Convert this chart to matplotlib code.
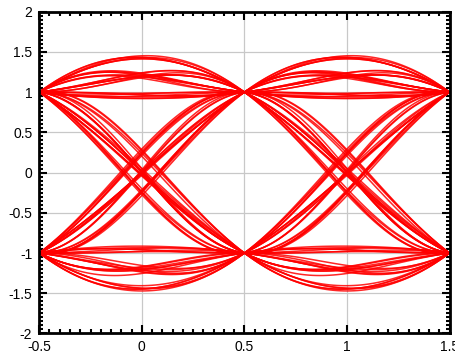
import numpy as np
import matplotlib.pyplot as plt
from matplotlib.ticker import MultipleLocator

# transmitted bipolar symbols (one per unit interval)
symbols = [1, -1, 1, 1, -1, -1, -1, 1, 1, 1, 1, 1, -1, 1, -1, -1,
           1, 1, -1, 1, 1, 1, -1, -1, 1, -1, -1, -1, -1, -1, 1, 1,
           -1, 1, -1, 1, 1, 1, 1, -1, -1, 1, 1, -1, -1, 1, -1, 1,
           1, -1, -1, -1, -1, 1, 1, 1, -1, 1, -1, -1, 1, -1, 1, 1,
           1, 1, 1, 1, -1, -1, -1, 1, -1, -1, 1, 1, -1, -1, -1, -1,
           -1, -1, 1, -1, 1, 1, 1, 1, -1, 1, 1, -1, -1, -1, 1, 1,
           1, 1, -1, -1, -1, -1, 1, -1, 1, 1, 1, -1, -1, 1, -1, -1]
rolloff = 0.5          # raised-cosine roll-off factor
sps = 60               # samples per symbol
span = 6               # pulse half-length in symbols

x_ticks = [-0.5, 0, 0.5, 1, 1.5]
x_labels = ["-0.5", "0", "0.5", "1", "1.5"]
y_ticks = [-2, -1.5, -1, -0.5, 0, 0.5, 1, 1.5, 2]
y_labels = ["-2", "-1.5", "-1", "-0.5", "0", "0.5", "1", "1.5", "2"]


def raised_cosine(t, b):
    t = np.asarray(t, dtype=float)
    den = 1 - (2 * b * t) ** 2
    out = np.empty_like(t)
    sing = np.isclose(den, 0)
    out[~sing] = np.sinc(t[~sing]) * np.cos(np.pi * b * t[~sing]) / den[~sing]
    out[sing] = np.pi / 4 * np.sinc(1 / (2 * b))
    return out


# build the shaped waveform
a = np.array(symbols, dtype=float)
n_sym = len(a)
t = np.arange(0, n_sym * sps) / sps
sig = np.zeros_like(t)
for k, ak in enumerate(a):
    m = np.abs(t - k) <= span
    sig[m] += ak * raised_cosine(t[m] - k, rolloff)

plt.rcParams['font.family'] = ['Liberation Sans', 'DejaVu Sans']
fig = plt.figure(figsize=(4.56, 3.54), dpi=100)
ax = fig.add_axes([0.086, 0.058, 0.9, 0.909])

# overlay 2-symbol windows, each starting on a sampling instant
for k in range(span, n_sym - span - 2):
    i0 = k * sps
    seg = sig[i0:i0 + 2 * sps + 1]
    xs = np.linspace(-0.5, 1.5, len(seg))
    ax.plot(xs, seg, color='#ff0000', lw=1.1, alpha=0.85)

ax.set_xlim(-0.5, 1.5)
ax.set_ylim(-2, 2)
ax.set_xticks(x_ticks)
ax.set_xticklabels(x_labels)
ax.set_yticks(y_ticks)
ax.set_yticklabels(y_labels)
ax.xaxis.set_minor_locator(MultipleLocator(0.05))
ax.yaxis.set_minor_locator(MultipleLocator(0.05))
ax.tick_params(which='both', direction='in', top=True, right=True,
               width=1.5, labelsize=10, colors='black')
ax.tick_params(which='major', length=6)
ax.tick_params(axis='x', which='major', pad=5)
ax.tick_params(axis='y', which='major', pad=5)
ax.tick_params(which='minor', length=3)
ax.grid(True, which='major', color='#c8c8c8', lw=0.9)
ax.set_axisbelow(True)
for s in ax.spines.values():
    s.set_linewidth(2)

fig.savefig('out.png', dpi=100)
